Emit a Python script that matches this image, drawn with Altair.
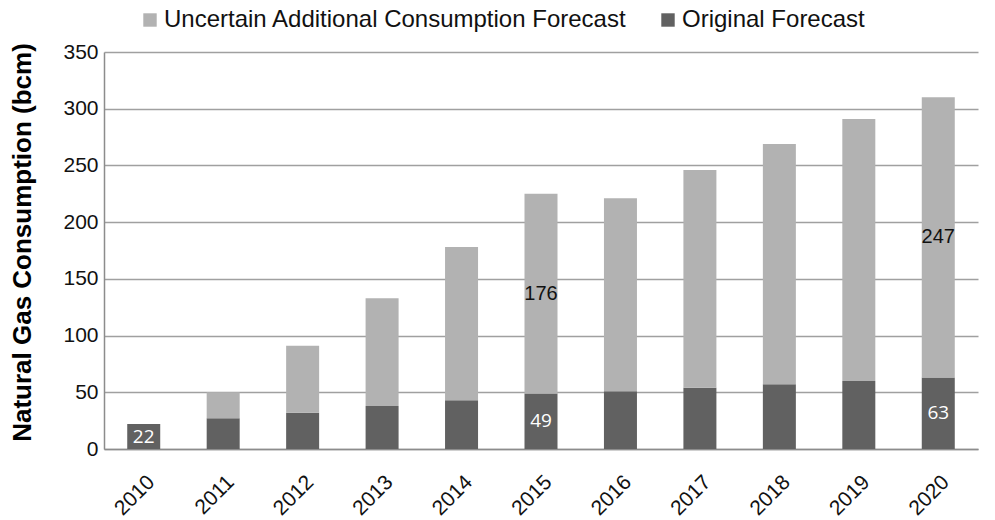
import altair as alt
import pandas as pd

years = [str(y) for y in range(2010, 2021)]
original = [22, 27, 32, 38, 43, 49, 51, 54, 57, 60, 63]
additional = [0, 23, 59, 95, 135, 176, 170, 192, 212, 231, 247]

ORIG = "Original Forecast"
ADD = "Uncertain Additional Consumption Forecast"

label_points = [("2010", ORIG), ("2015", ORIG), ("2015", ADD), ("2020", ORIG), ("2020", ADD)]

rows = []
for y, o, a in zip(years, original, additional):
    rows.append({"year": y, "series": ORIG, "value": o, "rank": 0})
    rows.append({"year": y, "series": ADD, "value": a, "rank": 1})
df = pd.DataFrame(rows)

lab_rows = []
for y, s in label_points:
    i = years.index(y)
    if s == ORIG:
        v = original[i]
        mid = v / 2
        col = "white"
    else:
        v = additional[i]
        mid = original[i] + v / 2
        col = "black"
    lab_rows.append({"year": y, "mid": mid, "text": str(v), "col": col})
lab = pd.DataFrame(lab_rows)

FONT = "Liberation Sans"

x_enc = alt.X("year:N", sort=years, scale=alt.Scale(paddingInner=0.58, paddingOuter=0.29),
              axis=alt.Axis(title=None, labelAngle=-45, labelFontSize=21, labelFont=FONT,
                            labelColor="#111", domainColor="#8c8c8c", domainWidth=1.5,
                            ticks=False, labelPadding=22))

bars = alt.Chart(df).mark_bar(size=33).encode(
    x=x_enc,
    y=alt.Y("value:Q", stack="zero", scale=alt.Scale(domain=[0, 350], nice=False),
            axis=alt.Axis(values=list(range(0, 351, 50)), title="Natural Gas Consumption (bcm)",
                          titleFont=FONT, titleFontSize=26, titleFontWeight="bold", titleColor="#000",
                          titleX=-82, titleY=190, titleBaseline="middle", titleAlign="center",
                          labelFont=FONT, labelFontSize=21, labelColor="#111", labelPadding=6,
                          grid=True, gridColor="#a0a0a0", gridWidth=1.5, ticks=False,
                          domainColor="#8c8c8c", domainWidth=1.5)),
    color=alt.Color("series:N", scale=alt.Scale(domain=[ADD, ORIG], range=["#b2b2b2", "#616161"]),
                    legend=alt.Legend(title=None, orient="none", legendX=34, legendY=-44,
                                      direction="horizontal", symbolType="square", symbolSize=180,
                                      symbolStrokeWidth=0, labelFont=FONT, labelFontSize=24,
                                      labelLimit=0, labelColor="#111", columnPadding=29,
                                      labelOffset=2)),
    order=alt.Order("rank:Q"),
)

white_txt = alt.Chart(lab).transform_filter(alt.datum.col == "white").mark_text(
    font="Open Sans", fontSize=19, color="white", baseline="middle"
).encode(x=alt.X("year:N", sort=years), y=alt.Y("mid:Q"), text="text:N")

black_txt = alt.Chart(lab).transform_filter(alt.datum.col == "black").mark_text(
    font=FONT, fontSize=20, color="#111", baseline="middle"
).encode(x=alt.X("year:N", sort=years), y=alt.Y("mid:Q"), text="text:N")

chart = alt.layer(bars, white_txt, black_txt).properties(
    width=874, height=397,
    autosize=alt.AutoSizeParams(type="none"),
    padding={"left": 104, "top": 52, "right": 17, "bottom": 71},
).configure_view(stroke=None)

chart.save("out.html", embed_options={"renderer": "svg", "actions": False})
